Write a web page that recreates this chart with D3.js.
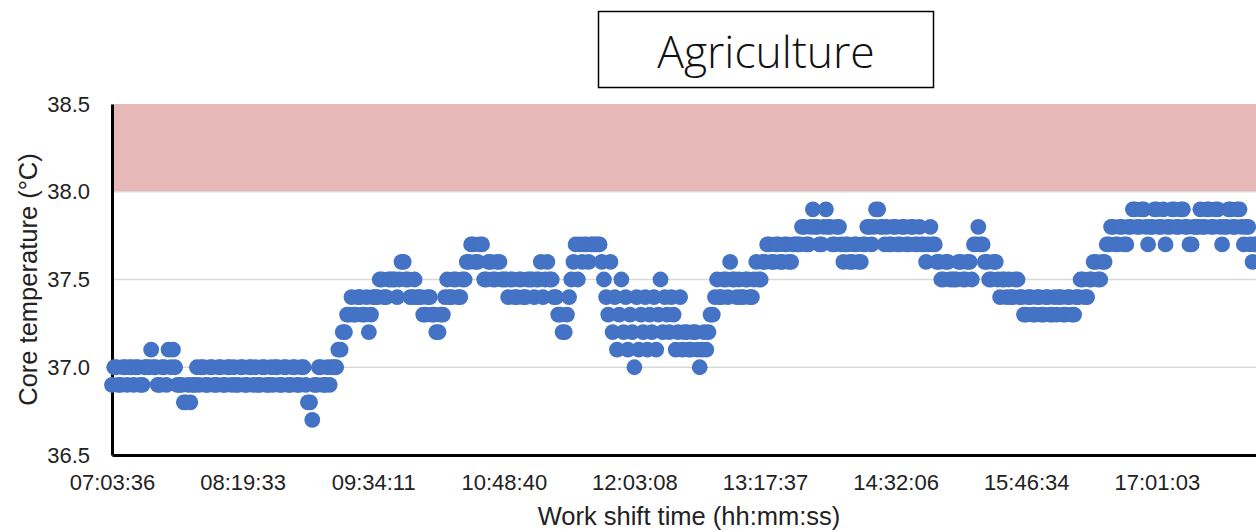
<!DOCTYPE html>
<html>
<head>
<meta charset="utf-8">
<script src="https://cdn.jsdelivr.net/npm/d3@7/dist/d3.min.js"></script>
<style>
  html, body { margin: 0; padding: 0; background: #fff; }
  svg { display: block; }
</style>
</head>
<body>
<svg id="chart" width="1256" height="532"></svg>
<script>
// Core temperature readings (°C), one per sample along the shift
const coreTemp = [
  36.9,37.0, 37.0,36.9, 36.9,37.0, 37.0,36.9, 37.0,37.0, 36.9,37.0, 37.0,36.9, 36.9,37.0, 37.0,37.0, 37.1,37.0,
  37.0,36.9, 36.9,37.0, 37.0,36.9, 37.1,37.0, 37.1,37.0, 36.9,36.9, 36.9,36.8, 36.8,36.9, 36.8,36.9, 36.9,37.0,
  36.9,37.0, 37.0,36.9, 36.9,37.0, 37.0,36.9, 36.9,37.0, 37.0,36.9, 36.9,37.0, 37.0,36.9, 37.0,36.9, 36.9,37.0,
  37.0,36.9, 36.9,37.0, 37.0,36.9, 37.0,36.9, 36.9,37.0, 37.0,36.9, 36.9,37.0, 36.9,37.0, 37.0,36.9, 36.9,37.0,
  37.0,36.9, 36.9,37.0, 37.0,36.9, 36.9,37.0, 37.0,36.9, 36.8,36.8, 36.7,36.9, 36.9,37.0, 37.0,36.9, 36.9,37.0,
  36.9,37.0, 37.0,37.0, 37.1,37.1, 37.2,37.2, 37.3,37.3, 37.4,37.3, 37.3,37.4, 37.4,37.3, 37.3,37.4, 37.2,37.3,
  37.4,37.4, 37.4,37.5, 37.5,37.4, 37.4,37.5, 37.5,37.5, 37.5,37.4, 37.5,37.6, 37.6,37.5, 37.5,37.4, 37.4,37.5,
  37.4,37.4, 37.4,37.3, 37.3,37.4, 37.4,37.3, 37.3,37.2, 37.2,37.3, 37.3,37.4, 37.5,37.4, 37.4,37.5, 37.5,37.4,
  37.4,37.5, 37.5,37.6, 37.6,37.7, 37.7,37.6, 37.6,37.7, 37.7,37.5, 37.5,37.6, 37.6,37.5, 37.5,37.6, 37.6,37.5,
  37.5,37.5, 37.4,37.5, 37.5,37.4, 37.4,37.5, 37.5,37.4, 37.4,37.5, 37.5,37.5, 37.4,37.5, 37.5,37.6, 37.4,37.5,
  37.6,37.5, 37.5,37.4, 37.4,37.3, 37.3,37.2, 37.2,37.3, 37.4,37.5, 37.6,37.7, 37.5,37.7, 37.6,37.7, 37.7,37.6,
  37.7,37.7, 37.7,37.7, 37.7,37.6, 37.5,37.4, 37.3,37.6, 37.2,37.4, 37.1,37.3, 37.5,37.2, 37.4,37.1, 37.3,37.2,
  37.0,37.4, 37.1,37.3, 37.2,37.4, 37.1,37.3, 37.2,37.4, 37.1,37.3, 37.5,37.2, 37.4,37.3, 37.2,37.4, 37.3,37.1,
  37.2,37.4, 37.1,37.2, 37.2,37.1, 37.1,37.2, 37.2,37.1, 37.0,37.1, 37.2,37.1, 37.2,37.3, 37.3,37.4, 37.5,37.4,
  37.4,37.5, 37.5,37.4, 37.6,37.5, 37.5,37.4, 37.5,37.4, 37.4,37.5, 37.5,37.4, 37.4,37.5, 37.6,37.5, 37.5,37.6,
  37.6,37.7, 37.7,37.6, 37.6,37.7, 37.7,37.6, 37.6,37.7, 37.7,37.6, 37.6,37.7, 37.7,37.7, 37.7,37.8, 37.8,37.7,
  37.7,37.8, 37.9,37.8, 37.8,37.7, 37.7,37.8, 37.9,37.8, 37.8,37.7, 37.7,37.8, 37.8,37.7, 37.6,37.7, 37.7,37.6,
  37.6,37.7, 37.7,37.6, 37.6,37.7, 37.7,37.8, 37.8,37.7, 37.8,37.9, 37.9,37.8, 37.8,37.7, 37.8,37.7, 37.7,37.8,
  37.8,37.7, 37.7,37.8, 37.8,37.7, 37.7,37.8, 37.8,37.7, 37.7,37.8, 37.7,37.7, 37.6,37.7, 37.8,37.7, 37.7,37.6,
  37.6,37.5, 37.5,37.6, 37.6,37.5, 37.5,37.5, 37.5,37.6, 37.6,37.5, 37.5,37.6, 37.6,37.5, 37.7,37.7, 37.8,37.7,
  37.7,37.6, 37.6,37.5, 37.5,37.6, 37.6,37.5, 37.4,37.5, 37.5,37.4, 37.5,37.4, 37.4,37.5, 37.5,37.4, 37.4,37.3,
  37.3,37.4, 37.4,37.3, 37.3,37.4, 37.4,37.3, 37.3,37.4, 37.4,37.3, 37.3,37.4, 37.3,37.4, 37.4,37.3, 37.3,37.4,
  37.4,37.3, 37.3,37.4, 37.4,37.5, 37.5,37.4, 37.4,37.5, 37.5,37.6, 37.6,37.5, 37.5,37.6, 37.6,37.7, 37.7,37.8,
  37.8,37.7, 37.7,37.8, 37.8,37.7, 37.7,37.8, 37.8,37.9, 37.9,37.8, 37.8,37.9, 37.9,37.8, 37.7,37.8, 37.8,37.9,
  37.9,37.8, 37.8,37.9, 37.7,37.8, 37.8,37.9, 37.9,37.8, 37.8,37.9, 37.9,37.8, 37.8,37.7, 37.7,37.8, 37.8,37.8,
  37.9,37.8, 37.8,37.9, 37.9,37.8, 37.8,37.9, 37.9,37.8, 37.7,37.8, 37.8,37.9, 37.9,37.8, 37.8,37.9, 37.9,37.8,
  37.7,37.8, 37.8,37.7, 37.6,37.7, 37.7
];

// Time labels shown every 60 samples
const timeLabels = [
  "07:03:36", "08:19:33", "09:34:11", "10:48:40", "12:03:08",
  "13:17:37", "14:32:06", "15:46:34", "17:01:03"
];
const samplesPerLabel = 60;

const yTicks = [36.5, 37.0, 37.5, 38.0, 38.5];
const yGrid = [37.0, 37.5, 38.0];
const alertBand = [38.0, 38.5];

const titleText = "Agriculture";
const yTitle = "Core temperature (°C)";
const xTitle = "Work shift time (hh:mm:ss)";

const svg = d3.select("#chart");
const W = 1256;

const plot = { left: 112, top: 104, bottom: 455 };
const labelGap = 130.6;

const x = d3.scaleLinear()
  .domain([0, samplesPerLabel * timeLabels.length])
  .range([plot.left, plot.left + labelGap * timeLabels.length]);

const y = d3.scaleLinear()
  .domain([36.5, 38.5])
  .range([plot.bottom, plot.top]);

const axisFont = "'Liberation Sans', Arial, sans-serif";

// alert band
svg.append("rect")
  .attr("x", plot.left)
  .attr("y", y(alertBand[1]))
  .attr("width", W - plot.left)
  .attr("height", y(alertBand[0]) - y(alertBand[1]))
  .attr("fill", "#e6b8b7");

// horizontal gridlines
svg.append("g")
  .selectAll("line")
  .data(yGrid)
  .join("line")
  .attr("x1", plot.left)
  .attr("x2", W)
  .attr("y1", d => y(d))
  .attr("y2", d => y(d))
  .attr("stroke", "#d9d9d9")
  .attr("stroke-width", 1.5);

// y axis
const gy = svg.append("g")
  .attr("transform", `translate(${plot.left},0)`)
  .call(d3.axisLeft(y)
    .tickValues(yTicks)
    .tickFormat(d3.format(".1f"))
    .tickSize(0)
    .tickPadding(22));
gy.select(".domain").attr("stroke", "#000").attr("stroke-width", 3);
gy.selectAll("text")
  .attr("font-family", axisFont)
  .attr("font-size", 22)
  .attr("fill", "#222");

// x axis
const gx = svg.append("g")
  .attr("transform", `translate(0,${plot.bottom})`)
  .call(d3.axisBottom(x)
    .tickValues(timeLabels.map((_, i) => i * samplesPerLabel))
    .tickFormat((d, i) => timeLabels[i])
    .tickSize(0)
    .tickPadding(19));
gx.select(".domain").attr("stroke", "#000").attr("stroke-width", 3);
gx.selectAll("text")
  .attr("font-family", axisFont)
  .attr("font-size", 22)
  .attr("fill", "#222");

// temperature markers
svg.append("g")
  .selectAll("circle")
  .data(coreTemp)
  .join("circle")
  .attr("cx", (d, i) => x(i))
  .attr("cy", d => y(d))
  .attr("r", 7.9)
  .attr("fill", "#4472c4");

// axis titles
svg.append("text")
  .attr("transform", `translate(37,${(plot.top + plot.bottom) / 2}) rotate(-90)`)
  .attr("text-anchor", "middle")
  .attr("font-family", axisFont)
  .attr("font-size", 25.5)
  .attr("fill", "#222")
  .text(yTitle);

svg.append("text")
  .attr("x", 689)
  .attr("y", 525)
  .attr("text-anchor", "middle")
  .attr("font-family", axisFont)
  .attr("font-size", 25.5)
  .attr("fill", "#222")
  .text(xTitle);

// title box
svg.append("rect")
  .attr("x", 598.5)
  .attr("y", 11.5)
  .attr("width", 335)
  .attr("height", 76)
  .attr("fill", "#fff")
  .attr("stroke", "#000")
  .attr("stroke-width", 1.5);

svg.append("text")
  .attr("x", 766)
  .attr("y", 68)
  .attr("text-anchor", "middle")
  .attr("font-family", "'Open Sans', 'Noto Sans', sans-serif")
  .attr("font-weight", 300)
  .attr("font-size", 44.5)
  .attr("fill", "#111")
  .text(titleText);
</script>
</body>
</html>
